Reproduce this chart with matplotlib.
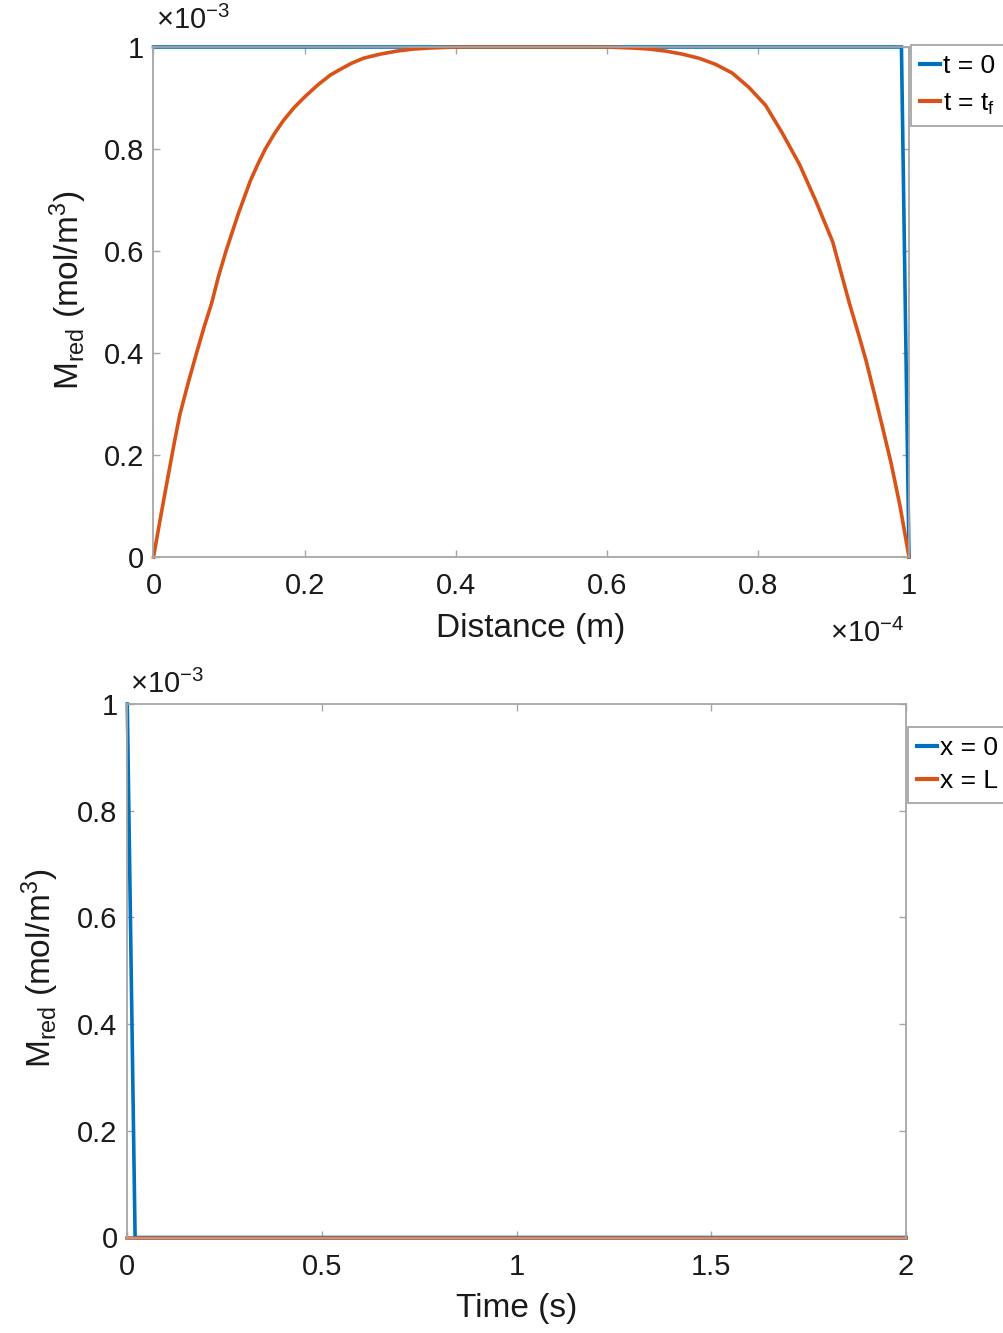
import matplotlib
matplotlib.use("Agg")
import matplotlib.pyplot as plt
from matplotlib.ticker import FuncFormatter, FixedLocator

plt.rcParams['font.family'] = ['Liberation Sans', 'DejaVu Sans']
plt.rcParams['mathtext.fontset'] = 'custom'
plt.rcParams['mathtext.rm'] = 'Liberation Sans'
plt.rcParams['mathtext.it'] = 'Liberation Sans:italic'

# Concentration profile along the film (distance in m, concentration in mol/m^3)
dist_t0 = [0.0, 0.99e-4, 1.0e-4]
conc_t0 = [1.0e-3, 1.0e-3, 0.0]

dist_tf = [0.000e-4, 0.009e-4, 0.015e-4, 0.022e-4, 0.028e-4, 0.035e-4, 0.046e-4,
           0.057e-4, 0.067e-4, 0.077e-4, 0.086e-4, 0.096e-4, 0.112e-4, 0.128e-4,
           0.138e-4, 0.148e-4, 0.160e-4, 0.172e-4, 0.186e-4, 0.200e-4, 0.217e-4,
           0.234e-4, 0.247e-4, 0.262e-4, 0.278e-4, 0.300e-4, 0.322e-4, 0.344e-4,
           0.366e-4, 0.400e-4, 0.500e-4, 0.600e-4, 0.634e-4, 0.656e-4, 0.678e-4,
           0.700e-4, 0.722e-4, 0.744e-4, 0.766e-4, 0.788e-4, 0.810e-4, 0.832e-4,
           0.855e-4, 0.877e-4, 0.899e-4, 0.910e-4, 0.921e-4, 0.932e-4, 0.943e-4,
           0.954e-4, 0.965e-4, 0.976e-4, 0.988e-4, 1.000e-4]
conc_tf = [0.000e-3, 0.075e-3, 0.124e-3, 0.180e-3, 0.228e-3, 0.280e-3, 0.342e-3,
           0.400e-3, 0.451e-3, 0.498e-3, 0.550e-3, 0.600e-3, 0.672e-3, 0.737e-3,
           0.770e-3, 0.800e-3, 0.830e-3, 0.856e-3, 0.881e-3, 0.902e-3, 0.925e-3,
           0.945e-3, 0.956e-3, 0.968e-3, 0.978e-3, 0.986e-3, 0.992e-3, 0.996e-3,
           0.998e-3, 1.000e-3, 1.000e-3, 1.000e-3, 0.998e-3, 0.996e-3, 0.992e-3,
           0.986e-3, 0.978e-3, 0.966e-3, 0.949e-3, 0.921e-3, 0.886e-3, 0.832e-3,
           0.770e-3, 0.697e-3, 0.618e-3, 0.558e-3, 0.498e-3, 0.443e-3, 0.386e-3,
           0.321e-3, 0.254e-3, 0.186e-3, 0.101e-3, 0.000e-3]

# Boundary concentrations over time (time in s)
time_x0 = [0.0, 0.02, 2.0]
conc_x0 = [1.0e-3, 0.0, 0.0]
time_xL = [0.0, 2.0]
conc_xL = [0.0, 0.0]

dist_ticks = [0.0, 0.2e-4, 0.4e-4, 0.6e-4, 0.8e-4, 1.0e-4]
time_ticks = [0.0, 0.5, 1.0, 1.5, 2.0]
conc_ticks = [0.0, 0.2e-3, 0.4e-3, 0.6e-3, 0.8e-3, 1.0e-3]

BLUE = '#0072BD'
ORANGE = '#D95319'
AXIS_GRAY = '#a6a6a6'
TEXT = '#1a1a1a'
TICK_FS = 21
LABEL_FS = 24
LEG_FS = 19
W, H = 1004, 1333


def fmt_scaled(scale):
    def f(v, pos):
        return f"{v / scale:.1f}".rstrip('0').rstrip('.')
    return FuncFormatter(f)


def style_axes(ax):
    for sp in ax.spines.values():
        sp.set_color(AXIS_GRAY)
        sp.set_linewidth(1.3)
    ax.tick_params(direction='in', length=5, width=1.0, color=AXIS_GRAY,
                   labelsize=TICK_FS, labelcolor=TEXT,
                   top=True, right=True)
    ax.tick_params(axis='x', pad=11)
    ax.tick_params(axis='y', pad=7)


def add_legend(ax, x_px, y_px, spacing):
    leg = ax.legend(loc='upper left', bbox_to_anchor=(x_px / W, 1 - y_px / H),
                    bbox_transform=fig.transFigure, fontsize=LEG_FS,
                    handlelength=0.75, handletextpad=0.12, borderpad=0.35,
                    labelspacing=spacing, borderaxespad=0, fancybox=False,
                    framealpha=1, edgecolor=AXIS_GRAY)
    leg.get_frame().set_linewidth(1.3)
    for line in leg.get_lines():
        line.set_linewidth(3.0)
    return leg


fig = plt.figure(figsize=(W / 100, H / 100), dpi=100)

# ---- Distance profile ----
top0, bot0 = 47, 557
ax1 = fig.add_axes([153.5 / W, 1 - bot0 / H, 755.5 / W, (bot0 - top0) / H])
ax1.plot(dist_t0, conc_t0, color=BLUE, lw=2.6, label='t = 0', clip_on=False,
         solid_joinstyle='miter')
ax1.plot(dist_tf, conc_tf, color=ORANGE, lw=2.6, label='t = t$_{\\rm f}$',
         clip_on=False, solid_joinstyle='round')
ax1.set_xlim(0, 1.0e-4)
ax1.set_ylim(0, 1.0e-3)
ax1.xaxis.set_major_locator(FixedLocator(dist_ticks))
ax1.yaxis.set_major_locator(FixedLocator(conc_ticks))
ax1.xaxis.set_major_formatter(fmt_scaled(1e-4))
ax1.yaxis.set_major_formatter(fmt_scaled(1e-3))
style_axes(ax1)
ax1.set_xlabel('Distance (m)', fontsize=LABEL_FS, color=TEXT)
ax1.xaxis.set_label_coords((531 - 153.5) / 755.5, (bot0 - 629) / (bot0 - top0))
ax1.xaxis.label.set_va('center')
ax1.set_ylabel('M$_{\\rm red}$ (mol/m$^3$)', fontsize=LABEL_FS, color=TEXT)
ax1.yaxis.set_label_coords((68 - 153.5) / 755.5, (bot0 - 290) / (bot0 - top0))
ax1.yaxis.label.set_va('center')
fig.text(156 / W, 1 - 20 / H, '$\\times$10$^{-3}$', fontsize=TICK_FS,
         color=TEXT, ha='left', va='center')
fig.text(830 / W, 1 - 633 / H, '$\\times$10$^{-4}$', fontsize=TICK_FS,
         color=TEXT, ha='left', va='center')
add_legend(ax1, 911, 45, 0.5)

# ---- Boundary concentrations vs time ----
top1, bot1 = 704, 1237.5
ax2 = fig.add_axes([127.3 / W, 1 - bot1 / H, 778.7 / W, (bot1 - top1) / H])
ax2.plot(time_x0, conc_x0, color=BLUE, lw=2.6, label='x = 0', clip_on=False)
ax2.plot(time_xL, conc_xL, color=ORANGE, lw=2.6, label='x = L', clip_on=False)
ax2.set_xlim(0, 2.0)
ax2.set_ylim(0, 1.0e-3)
ax2.xaxis.set_major_locator(FixedLocator(time_ticks))
ax2.yaxis.set_major_locator(FixedLocator(conc_ticks))
ax2.xaxis.set_major_formatter(FuncFormatter(lambda v, p: f"{v:g}"))
ax2.yaxis.set_major_formatter(fmt_scaled(1e-3))
style_axes(ax2)
ax2.set_xlabel('Time (s)', fontsize=LABEL_FS, color=TEXT)
ax2.xaxis.set_label_coords((517 - 127.3) / 778.7, (bot1 - 1309) / (bot1 - top1))
ax2.xaxis.label.set_va('center')
ax2.set_ylabel('M$_{\\rm red}$ (mol/m$^3$)', fontsize=LABEL_FS, color=TEXT)
ax2.yaxis.set_label_coords((40 - 127.3) / 778.7, (bot1 - 968) / (bot1 - top1))
ax2.yaxis.label.set_va('center')
fig.text(130 / W, 1 - 684 / H, '$\\times$10$^{-3}$', fontsize=TICK_FS,
         color=TEXT, ha='left', va='center')
add_legend(ax2, 908, 727, 0.35)

fig.savefig('out.png', dpi=100)
